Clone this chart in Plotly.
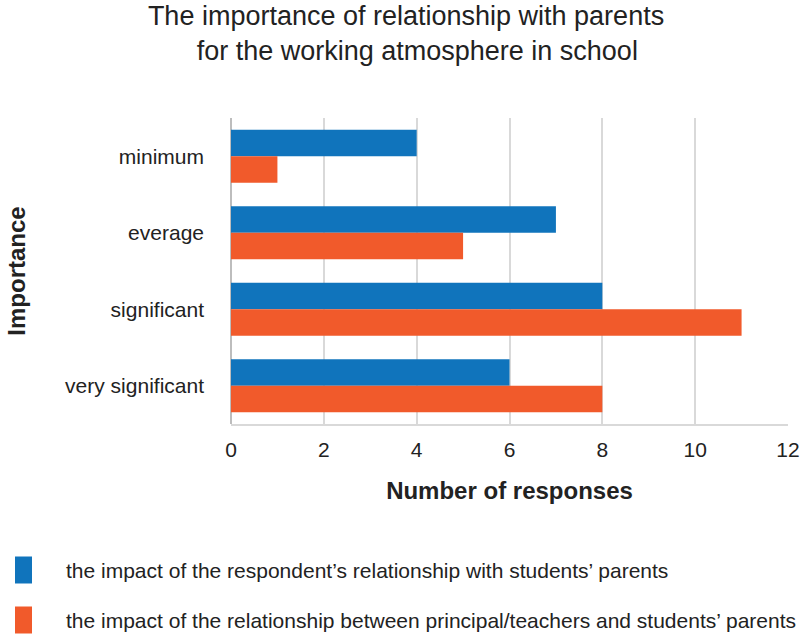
import plotly.graph_objects as go

# Survey answers: how important relations with parents are for the school climate
categories = ["minimum", "everage", "significant", "very significant"]
respondent_values = [4, 7, 8, 6]
principal_values = [1, 5, 11, 8]
series_names = [
    "the impact of the respondent\u2019s relationship with students\u2019 parents",
    "the impact of the relationship between principal/teachers and students\u2019 parents",
]
x_ticks = [0, 2, 4, 6, 8, 10, 12]

BLUE = "#1074BC"
ORANGE = "#F15A2B"
FONT = "Liberation Sans, Arial, sans-serif"
TEXT = "#222222"

fig = go.Figure()
fig.add_trace(go.Bar(y=categories, x=respondent_values, orientation="h",
                     name=series_names[0], marker=dict(color=BLUE, line=dict(width=0))))
fig.add_trace(go.Bar(y=categories, x=principal_values, orientation="h",
                     name=series_names[1], marker=dict(color=ORANGE, line=dict(width=0))))

fig.update_layout(
    width=804, height=634,
    margin=dict(l=231, r=16, t=118, b=210),
    paper_bgcolor="white", plot_bgcolor="white",
    barmode="group", bargap=0.307, bargroupgap=0,
    showlegend=False,
    font=dict(family=FONT, color=TEXT),
    title=dict(
        text="The importance of relationship with parents<br>   for the working atmosphere in school",
        x=0.505, xanchor="center", yref="container", y=1 - 25 / 634, yanchor="top",
        font=dict(size=27, color=TEXT, family=FONT),
    ),
)

fig.update_xaxes(
    range=[0, 12], tickvals=x_ticks, ticktext=[str(v) for v in x_ticks],
    automargin=False,
    showgrid=True, gridcolor="#d9d9d9", gridwidth=2,
    zeroline=True, zerolinecolor="#bdbdbd", zerolinewidth=2,
    showline=True, linecolor="#d9d9d9", linewidth=2,
    ticks="", ticklabelstandoff=6,
    tickfont=dict(size=21, color=TEXT),
    title=dict(text="<b>Number of responses</b>", font=dict(size=24, color=TEXT), standoff=22),
)
fig.update_yaxes(
    categoryorder="array", categoryarray=categories, autorange="reversed",
    automargin=False,
    showgrid=False, zeroline=False, showline=False,
    ticks="", ticklabelstandoff=26,
    tickfont=dict(size=21, color=TEXT),
    title=dict(text="<b>Importance</b>", font=dict(size=24, color=TEXT), standoff=32),
)

# Legend drawn as colour swatches with labels underneath the chart
legend_rows = [(BLUE, series_names[0], 570), (ORANGE, series_names[1], 620)]
for color, label, yc in legend_rows:
    fig.add_shape(type="rect", xref="paper", yref="paper",
                  x0=(15 - 231) / 557, x1=(32 - 231) / 557,
                  y0=(634 - 210 - (yc + 13.5)) / 306, y1=(634 - 210 - (yc - 13.5)) / 306,
                  fillcolor=color, line=dict(width=0))
    fig.add_annotation(xref="paper", yref="paper",
                       x=(64 - 231) / 557, y=(634 - 210 - yc) / 306,
                       xanchor="left", yanchor="middle", showarrow=False,
                       text=label, font=dict(size=21, color=TEXT, family=FONT))

fig.write_html("out.html")
